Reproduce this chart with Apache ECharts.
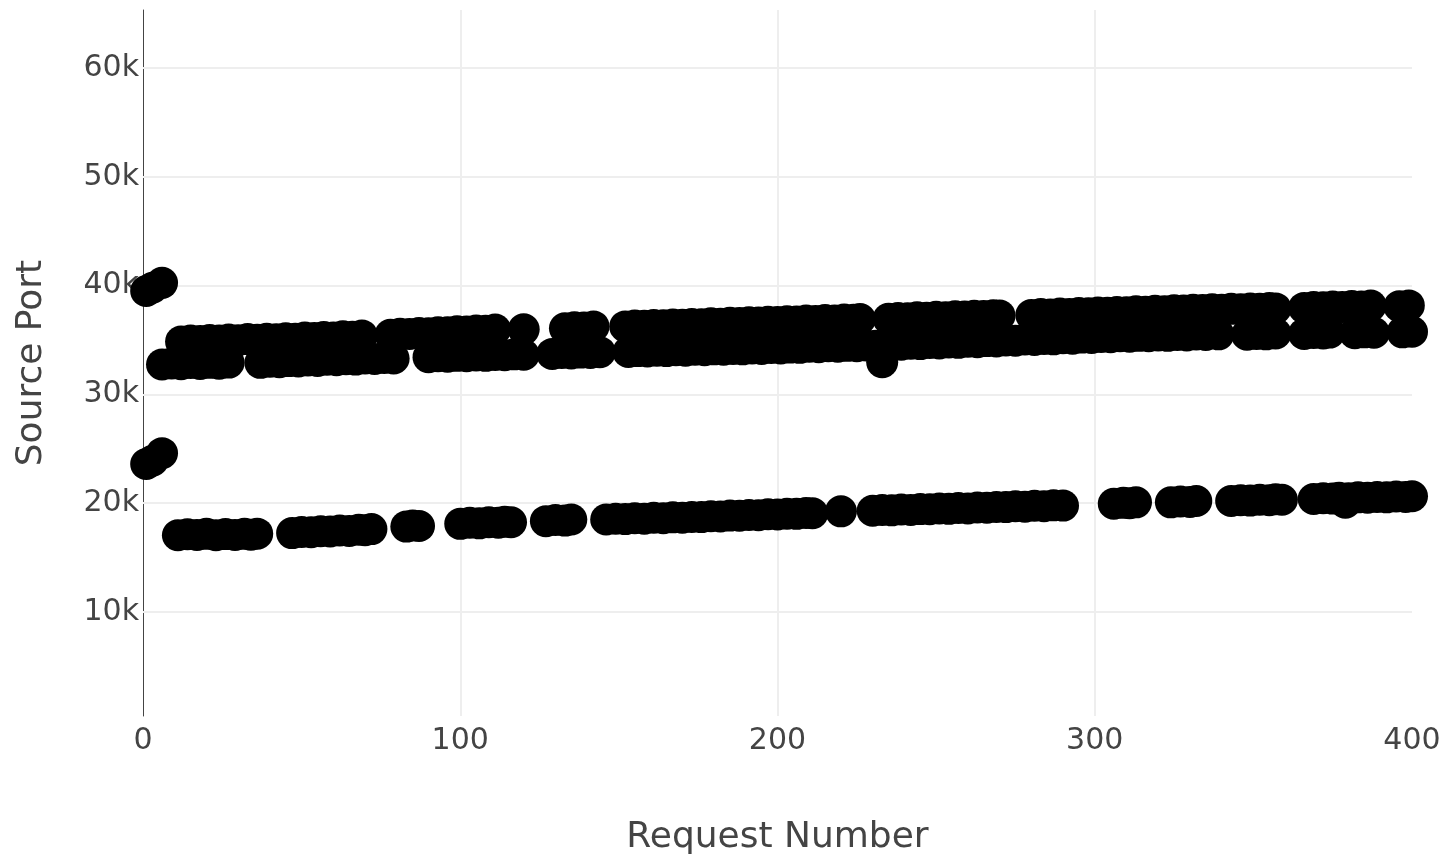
<!DOCTYPE html>
<html>
<head>
<meta charset="utf-8">
<script src="https://cdn.jsdelivr.net/npm/echarts@6/dist/echarts.min.js"></script>
<style>
html,body{margin:0;padding:0;background:#fff;}
#chart{width:1445px;height:860px;}
</style>
</head>
<body>
<div id="chart"></div>
<script>
// Early requests (two small clusters at the start)
const earlyX = [1, 3, 6, 1, 3, 6];
const earlyY = [39500, 39800, 40250, 23600, 23900, 24600];

// Upper band, top row
const topX = [12,15,18,21,24,27,30,33,36,39,42,45,48,51,54,57,60,63,66,69,
  78,81,84,87,90,93,96,99,102,105,108,111,120,133,136,139,142,
  152,155,158,161,164,167,170,173,176,179,182,185,188,191,194,197,200,203,206,209,212,215,218,221,224,226,
  235,238,241,244,247,250,253,256,259,262,265,268,270,
  280,283,286,289,292,295,298,301,304,307,310,313,316,319,322,325,328,331,334,337,340,343,346,349,352,355,357,
  366,369,372,375,378,381,384,387,396,399];
const topY = [34850,34950,34900,35000,34950,35050,34980,35080,35020,35120,35060,35160,35120,35220,35180,35280,35240,35340,35300,35420,
  35480,35580,35550,35650,35620,35720,35700,35800,35780,35880,35860,35960,35980,36080,36180,36150,36250,
  36250,36330,36300,36380,36350,36430,36400,36480,36450,36530,36500,36580,36550,36630,36600,36680,36650,36730,36700,36780,36750,36830,36800,36880,36850,36930,
  36950,37030,37000,37080,37050,37130,37100,37180,37150,37230,37200,37280,37250,
  37300,37380,37350,37430,37400,37480,37450,37530,37500,37580,37550,37630,37600,37680,37650,37730,37700,37780,37750,37830,37780,37860,37820,37900,37860,37940,37900,
  37950,38030,38000,38080,38040,38120,38080,38160,38100,38180];

// Upper band, bottom row
const botX = [6,9,12,15,18,21,24,27,37,40,43,46,49,52,55,58,61,64,67,70,73,76,79,
  90,93,96,99,102,105,108,111,114,117,120,129,132,135,138,141,144,
  153,156,159,162,165,168,171,174,177,180,183,186,189,192,195,198,201,204,207,210,213,216,219,222,225,228,231,233,
  236,239,242,245,248,251,254,257,260,263,266,269,272,275,278,281,284,287,290,293,296,299,
  302,305,308,311,314,317,320,323,326,329,332,335,339,348,351,354,357,366,369,372,374,382,385,388,397,400];
const botY = [32750,32850,32780,32880,32800,32900,32820,32920,32900,33000,32960,33060,33020,33120,33080,33180,33140,33240,33200,33300,33250,33350,33300,
  33420,33500,33460,33540,33500,33580,33540,33620,33600,33680,33640,33720,33800,33760,33840,33800,33880,
  33900,33980,33940,34020,33980,34060,34020,34100,34060,34140,34100,34180,34140,34220,34180,34260,34220,34300,34280,34380,34340,34420,34380,34460,34420,34500,34480,32950,
  34580,34560,34660,34620,34720,34680,34780,34740,34840,34800,34900,34860,34960,34940,35040,35000,35100,35060,35160,35120,35220,35180,
  35280,35260,35340,35300,35380,35340,35420,35380,35460,35420,35500,35460,35520,35480,35560,35520,35600,35560,35640,35600,35680,35620,35700,35660,35700,35760];

// Lower band
const lowX = [11,14,17,20,23,26,29,32,34,36, 47,50,53,56,59,62,65,68,70,72, 83,85,87,
  100,103,106,109,112,114,116, 127,130,133,135,
  146,149,152,155,158,161,164,167,170,173,176,179,182,185,188,191,194,197,200,203,206,209,211, 220,
  230,233,236,239,242,245,248,251,254,257,260,263,266,269,272,275,278,281,284,287,290,
  306,309,311,313, 324,327,330,332, 343,346,349,352,355,357,359,
  369,372,375,377,379,380,383,386,389,392,395,398,400];
const lowY = [17050,17150,17080,17180,17060,17160,17080,17180,17100,17200, 17250,17350,17330,17430,17400,17500,17450,17560,17520,17620, 17850,17950,17900,
  18100,18200,18150,18250,18200,18300,18250, 18350,18450,18400,18500,
  18500,18580,18540,18620,18580,18660,18620,18700,18660,18740,18720,18800,18780,18860,18840,18920,18900,18980,18960,19040,19020,19100,19080, 19250,
  19300,19380,19340,19420,19380,19460,19440,19520,19480,19560,19520,19600,19580,19660,19640,19720,19680,19760,19720,19800,19780,
  19950,20030,20000,20080, 20080,20160,20120,20200, 20200,20280,20240,20320,20280,20360,20320,
  20380,20460,20420,20500,20050,20460,20540,20500,20580,20540,20620,20580,20640];

const yGridTicks = [10000, 20000, 30000, 40000, 50000, 60000];
const xGridTicks = [100, 200, 300];

function pairs(xs, ys) { return xs.map((x, i) => [x, ys[i]]); }
const points = [].concat(pairs(earlyX, earlyY), pairs(topX, topY), pairs(botX, botY), pairs(lowX, lowY));

const FONT = '"DejaVu Sans", Verdana, sans-serif';
const chart = echarts.init(document.getElementById('chart'), null, {renderer: 'canvas'});
chart.setOption({
  animation: false,
  backgroundColor: '#fff',
  grid: {left: 143, right: 33, top: 10, bottom: 144, containLabel: false, outerBoundsMode: 'none'},
  xAxis: {
    type: 'value', min: 0, max: 400, interval: 100,
    name: 'Request Number', nameLocation: 'middle', nameGap: 104,
    nameTextStyle: {color: '#444', fontSize: 36, fontFamily: FONT},
    axisLine: {show: false}, axisTick: {show: false}, splitLine: {show: false},
    axisLabel: {color: '#444', fontSize: 30, fontFamily: FONT, margin: 10}
  },
  yAxis: {
    type: 'value', min: 440, max: 65330, splitNumber: 5,
    name: 'Source Port', nameLocation: 'middle', nameGap: 93,
    nameTextStyle: {color: '#444', fontSize: 36, fontFamily: FONT},
    axisLine: {show: true, onZero: true, lineStyle: {color: '#444', width: 1}},
    axisTick: {show: false}, splitLine: {show: false},
    axisLabel: {
      color: '#444', fontSize: 30, fontFamily: FONT, margin: 4,
      showMinLabel: false, showMaxLabel: false,
      formatter: v => (v % 10000 === 0 ? (v / 1000) + 'k' : '')
    }
  },
  series: [
    {
      type: 'line', data: [], z: 1, silent: true,
      markLine: {
        z: 1, silent: true, symbol: 'none', animation: false,
        label: {show: false},
        lineStyle: {color: '#eeeeee', width: 2, type: 'solid'},
        data: yGridTicks.map(v => ({yAxis: v})).concat(xGridTicks.map(v => ({xAxis: v})))
      }
    },
    {
      type: 'scatter', z: 3, clip: true,
      symbol: 'circle', symbolSize: 32,
      itemStyle: {color: '#000', opacity: 1},
      data: points
    }
  ]
});
</script>
</body>
</html>
